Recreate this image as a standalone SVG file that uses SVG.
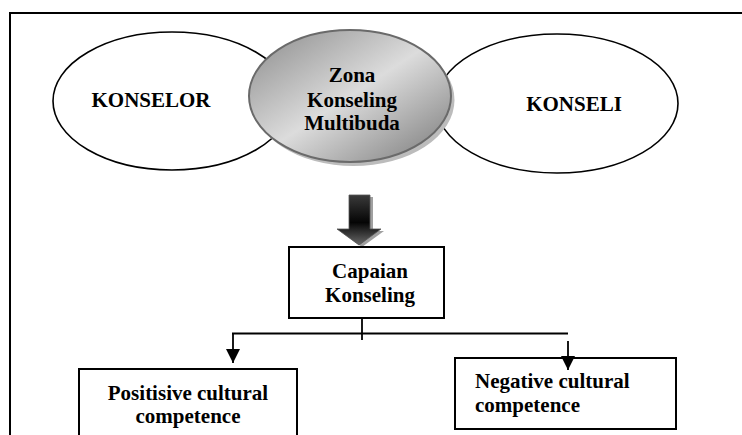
<svg xmlns="http://www.w3.org/2000/svg" width="742" height="435" viewBox="0 0 742 435">
  <style>
    .t { font-family: 'Liberation Serif', 'Times New Roman', Times, serif; font-weight: 700; font-size: 21px; fill: #000; }
    .c { text-anchor: middle; }
    .oval { fill: #fff; stroke: #000; stroke-width: 1.6; }
    .box { fill: #fff; stroke: #000; stroke-width: 2; }
    .conn { fill: none; stroke: #000; stroke-width: 1.8; }
  </style>
  <defs>
    <linearGradient id="zg" x1="0" y1="0" x2="1" y2="1">
      <stop offset="0" stop-color="#8a8a8a"/>
      <stop offset="0.5" stop-color="#dcdcdc"/>
      <stop offset="1" stop-color="#787878"/>
    </linearGradient>
    <linearGradient id="ag" x1="0" y1="0" x2="0" y2="1">
      <stop offset="0" stop-color="#3a3a3a"/>
      <stop offset="0.55" stop-color="#050505"/>
      <stop offset="1" stop-color="#6a6a6a"/>
    </linearGradient>
    <marker id="ah" viewBox="0 0 10 10" refX="10" refY="5" markerWidth="14" markerHeight="14" markerUnits="userSpaceOnUse" orient="auto">
      <path d="M0,0 L10,5 L0,10 z" fill="#000"/>
    </marker>
  </defs>

  <rect x="0" y="0" width="742" height="435" fill="#fff"/>
  <path d="M10,435 V13 H742" fill="none" stroke="#000" stroke-width="2"/>

  <g id="konselor">
    <ellipse class="oval" cx="172" cy="101" rx="119" ry="69"/>
    <text class="t c" x="151" y="107">KONSELOR</text>
  </g>

  <g id="konseli">
    <ellipse class="oval" cx="557" cy="103.5" rx="121" ry="69.5"/>
    <text class="t c" x="574" y="110.5">KONSELI</text>
  </g>

  <g id="zona">
    <ellipse cx="353.5" cy="100" rx="101" ry="66" fill="#bcbcbc"/>
    <ellipse cx="350" cy="96" rx="101" ry="66" fill="url(#zg)" stroke="#6a6a6a" stroke-width="2"/>
    <text class="t c" x="352" y="81.5">Zona</text>
    <text class="t c" x="352" y="106.5">Konseling</text>
    <text class="t c" x="352" y="130">Multibuda</text>
  </g>

  <g id="block-arrow">
    <polygon points="352,197 373,197 373,231 384,231 362,247 340,231 352,231" fill="#a0a0a0"/>
    <polygon points="349,195 370,195 370,229 381,229 359,245 337,229 349,229" fill="url(#ag)" stroke="#555" stroke-width="0.8"/>
  </g>

  <g id="capaian">
    <rect class="box" x="289" y="247" width="155" height="71"/>
    <text class="t c" x="370" y="278">Capaian</text>
    <text class="t c" x="370" y="301.5">Konseling</text>
  </g>

  <g id="positive">
    <rect class="box" x="79" y="369" width="218" height="80"/>
    <text class="t c" x="188" y="400">Positisive cultural</text>
    <text class="t c" x="188" y="423">competence</text>
  </g>

  <g id="negative">
    <rect class="box" x="455" y="358" width="221" height="71"/>
    <text class="t" x="475" y="388">Negative cultural</text>
    <text class="t" x="475" y="412">competence</text>
  </g>

  <g id="connectors">
    <line class="conn" x1="362" y1="318" x2="362" y2="340"/>
    <line class="conn" x1="232" y1="333.5" x2="568" y2="333.5"/>
    <line class="conn" x1="233" y1="333" x2="233" y2="363" marker-end="url(#ah)"/>
    <line class="conn" x1="568" y1="341" x2="568" y2="370" marker-end="url(#ah)"/>
  </g>
</svg>
